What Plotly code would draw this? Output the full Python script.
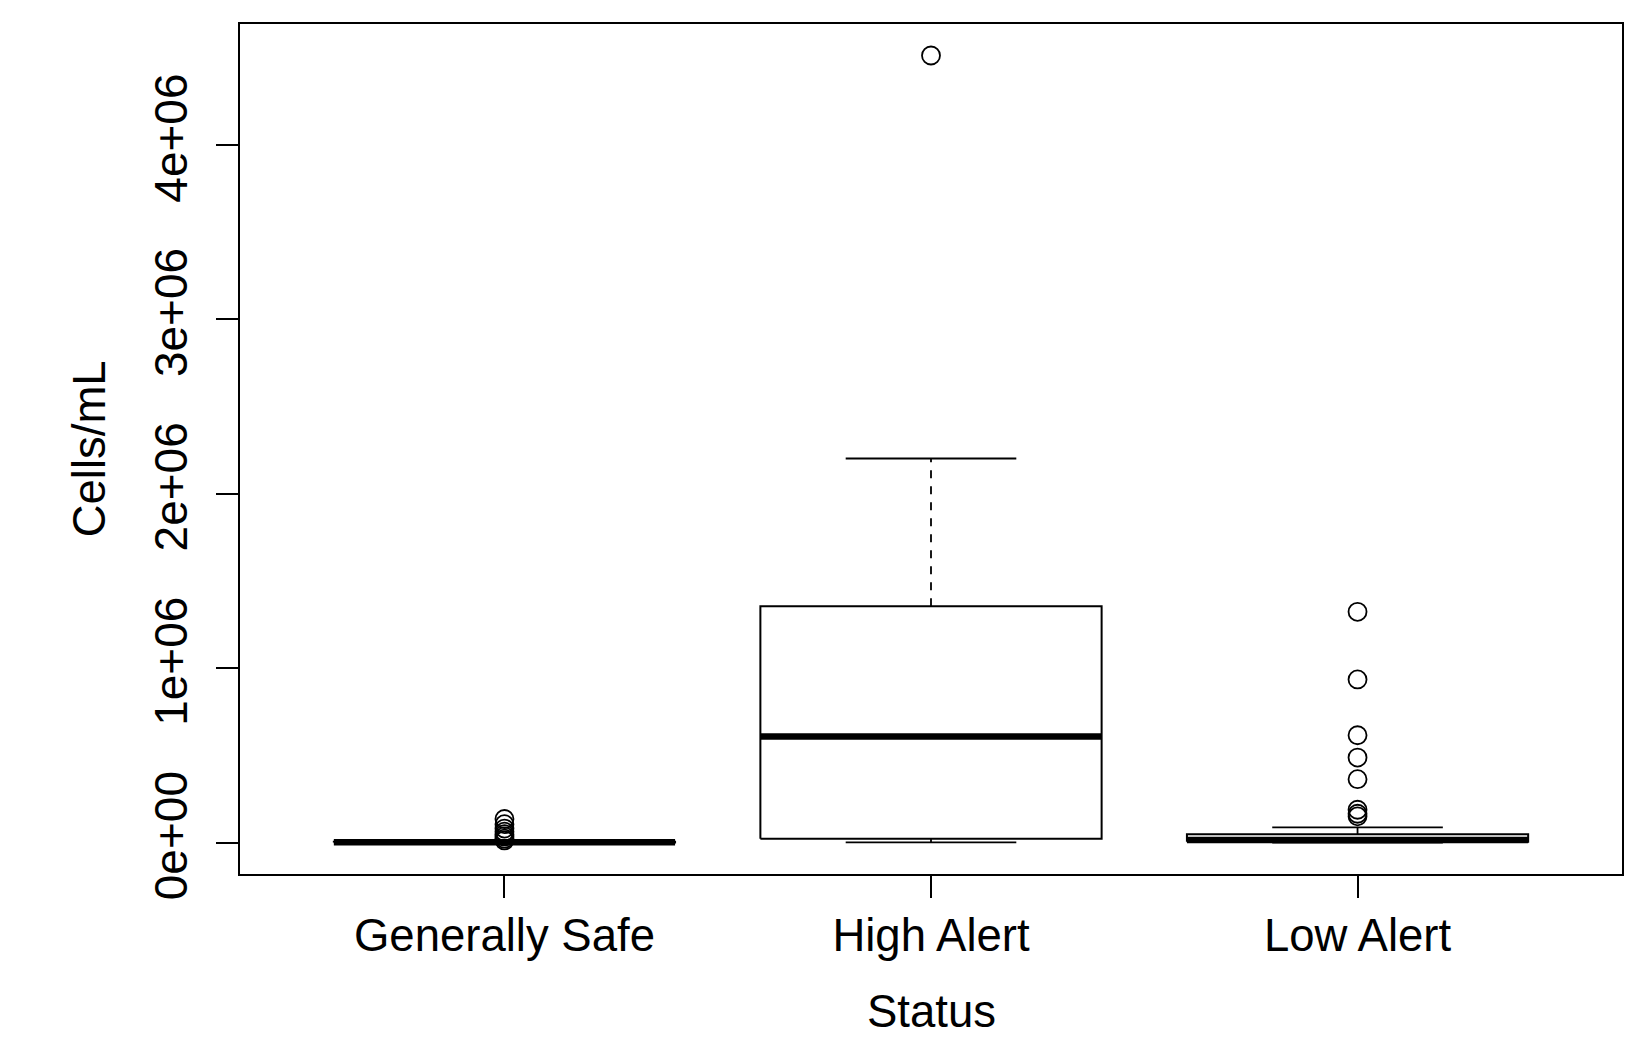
import plotly.graph_objects as go

categories = ["Generally Safe", "High Alert", "Low Alert"]
lower_whisker = [0, 1000, 0]
q1 = [0, 22000, 4000]
median = [2000, 608000, 15000]
q3 = [5000, 1355000, 48000]
upper_whisker = [10000, 2202000, 87000]

outliers_safe = [135000, 105000, 80000, 62000, 48000, 35000, 22000, 12000]
outliers_high = [4513000]
outliers_low = [1323000, 935000, 615000, 487000, 363000, 188000, 165000, 150000]
outliers = [outliers_safe, outliers_high, outliers_low]

y_tickvals = [0, 1e6, 2e6, 3e6, 4e6]
y_ticktext = ["0e+00", "1e+06", "2e+06", "3e+06", "4e+06"]

FONT = "Liberation Sans, Arial, sans-serif"
HW = 0.4   # half box width
SW = 0.2   # half staple width

fig = go.Figure()

box_x, box_y, med_x, med_y, wh_x, wh_y, st_x, st_y = [], [], [], [], [], [], [], []
for i, cat in enumerate(categories):
    x = i + 1
    box_x += [x - HW, x + HW, x + HW, x - HW, x - HW, None]
    box_y += [q1[i], q1[i], q3[i], q3[i], q1[i], None]
    med_x += [x - HW, x + HW, None]
    med_y += [median[i], median[i], None]
    wh_x += [x, x, None, x, x, None]
    wh_y += [q3[i], upper_whisker[i], None, q1[i], lower_whisker[i], None]
    st_x += [x - SW, x + SW, None, x - SW, x + SW, None]
    st_y += [upper_whisker[i], upper_whisker[i], None, lower_whisker[i], lower_whisker[i], None]

fig.add_trace(go.Scatter(x=wh_x, y=wh_y, mode="lines",
                         line=dict(color="black", width=1.8, dash="8px,8px"),
                         hoverinfo="skip", showlegend=False))
fig.add_trace(go.Scatter(x=st_x, y=st_y, mode="lines",
                         line=dict(color="black", width=1.8),
                         hoverinfo="skip", showlegend=False))
fig.add_trace(go.Scatter(x=box_x, y=box_y, mode="lines",
                         line=dict(color="black", width=2),
                         hoverinfo="skip", showlegend=False))
fig.add_trace(go.Scatter(x=med_x, y=med_y, mode="lines",
                         line=dict(color="black", width=6.5),
                         hoverinfo="skip", showlegend=False))

ox, oy = [], []
for i, vals in enumerate(outliers):
    for v in vals:
        ox.append(i + 1)
        oy.append(v)
fig.add_trace(go.Scatter(x=ox, y=oy, mode="markers",
                         marker=dict(symbol="circle-open", size=18, color="black",
                                     line=dict(width=1.8, color="black")),
                         showlegend=False))

all_vals = [v for vs in outliers for v in vs] + lower_whisker + upper_whisker
vmin, vmax = min(all_vals), max(all_vals)
pad = 0.04 * (vmax - vmin)

fig.update_layout(
    width=1641, height=1029,
    margin=dict(l=232, r=27, t=16, b=163),
    paper_bgcolor="white", plot_bgcolor="white",
    font=dict(family=FONT, color="black", size=45),
    showlegend=False,
    xaxis=dict(range=[0.38, 3.62], tickvals=[1, 2, 3], ticktext=categories,
               showgrid=False, zeroline=False, showline=True, mirror=True,
               linecolor="black", linewidth=1.8, ticks="outside", ticklen=22,
               tickwidth=1.8, tickcolor="black", tickfont=dict(size=45.5),
               ticklabelstandoff=-2),
    yaxis=dict(range=[vmin - pad, vmax + pad], tickvals=y_tickvals, ticktext=y_ticktext,
               tickangle=-90, showgrid=False, zeroline=False, showline=True, mirror=True,
               linecolor="black", linewidth=1.8, ticks="outside", ticklen=22,
               tickwidth=1.8, tickcolor="black", tickfont=dict(size=46),
               ticklabelstandoff=11),
    annotations=[
        dict(text="Status", xref="paper", yref="paper", x=0.5, y=-0.162,
             xanchor="center", yanchor="middle", showarrow=False, font=dict(size=45.5)),
        dict(text="Cells/mL", xref="paper", yref="paper", x=-0.109, y=0.5,
             xanchor="center", yanchor="middle", textangle=-90, showarrow=False,
             font=dict(size=45.5)),
    ],
)

fig.write_html("out.html")
